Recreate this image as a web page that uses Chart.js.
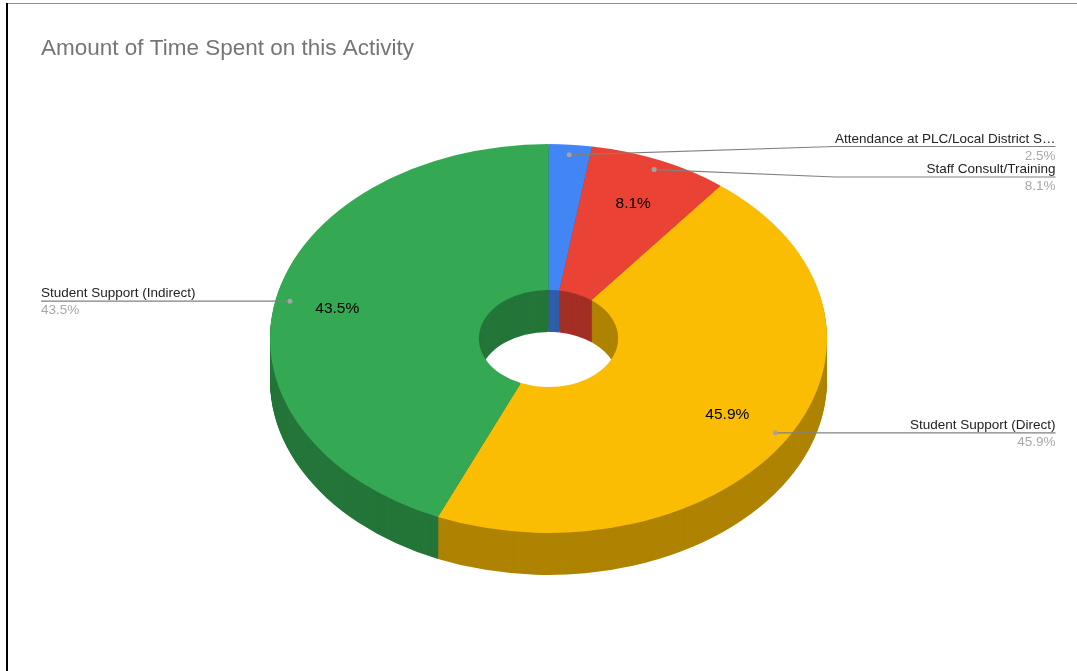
<!DOCTYPE html>
<html>
<head>
<meta charset="utf-8">
<style>
  html, body { margin: 0; padding: 0; background: #fff; overflow: hidden; }
  #wrap { position: relative; width: 1077px; height: 671px; }
  #wrap::before { content: ''; position: absolute; left: 6px; top: 3px; right: 0; height: 1px; background: #8c8c8c; }
  #wrap::after { content: ''; position: absolute; left: 6px; top: 3px; bottom: 0; width: 2px; background: #000; }
  canvas { position: absolute; left: 0; top: 0; }
</style>
<script src="https://cdn.jsdelivr.net/npm/chart.js@4"></script>
</head>
<body>
<div id="wrap"><canvas id="chart" width="1077" height="671"></canvas></div>
<script>
// Data
const titleText = 'Amount of Time Spent on this Activity';
const categories = ['Attendance at PLC/Local District S…', 'Staff Consult/Training', 'Student Support (Direct)', 'Student Support (Indirect)'];
const shareValues = [2.5, 8.1, 45.9, 43.5];
const shareLabels = ['2.5%', '8.1%', '45.9%', '43.5%'];
const insideLabels = [false, true, true, true];
const topColors = ['#4285F4', '#EA4335', '#FBBC04', '#34A853'];
const sideColors = ['#2E5DAB', '#A32F25', '#AF8302', '#247539'];

// fake 3d: squash the circle to an ellipse and stack dark copies under it
const squash = 0.698;
const depth = 42;
const pieCenterY = 338.5;
// y of the horizontal leader line, null = same as the dot
const calloutY = [146.5, 177, null, null];
const dotRadiusFactor = 0.948;
const labelRadiusFactor = 0.76;
const insideNudgeX = [0, 0, -3, -4];

function toScreen(arc, factor) {
    const mid = (arc.startAngle + arc.endAngle) / 2;
    const r = arc.outerRadius * factor;
    return {
        x: arc.x + Math.cos(mid) * r,
        y: pieCenterY + Math.sin(mid) * r * squash
    };
}

const pie3d = {
    id: 'pie3d',
    beforeDatasetsDraw(chart) {
        const ctx = chart.ctx;
        const arcs = chart.getDatasetMeta(0).data;
        const cy = arcs[0].y;
        for (let d = depth; d >= 0; d--) {
            ctx.save();
            ctx.translate(0, pieCenterY + d);
            ctx.scale(1, squash);
            ctx.translate(0, -cy);
            arcs.forEach((arc, i) => {
                arc.options.backgroundColor = d === 0 ? topColors[i] : sideColors[i];
                arc.draw(ctx);
            });
            ctx.restore();
        }
        return false;
    },
    afterDraw(chart) {
        const ctx = chart.ctx;
        const arcs = chart.getDatasetMeta(0).data;
        const leftX = 41;
        const rightX = 1055.5;

        ctx.save();
        ctx.textBaseline = 'alphabetic';
        ctx.fillStyle = '#757575';
        ctx.font = '22.5px "Liberation Sans"';
        ctx.textAlign = 'left';
        ctx.fillText(titleText, 41, 55);

        arcs.forEach((arc, i) => {
            const dot = toScreen(arc, dotRadiusFactor);
            const onRight = dot.x > arc.x;
            const endX = onRight ? rightX : leftX;
            const lineY = calloutY[i] === null ? dot.y : calloutY[i];

            // leader line
            ctx.strokeStyle = '#808080';
            ctx.lineWidth = 1.2;
            ctx.beginPath();
            ctx.moveTo(dot.x, dot.y);
            if (calloutY[i] !== null) ctx.lineTo(835, lineY);
            ctx.lineTo(endX, lineY);
            ctx.stroke();

            ctx.fillStyle = '#a3a3a3';
            ctx.beginPath();
            ctx.arc(dot.x, dot.y, 2.5, 0, Math.PI * 2);
            ctx.fill();

            // callout text
            ctx.textAlign = onRight ? 'right' : 'left';
            ctx.font = '13.5px "Liberation Sans"';
            ctx.fillStyle = '#222222';
            ctx.fillText(categories[i], endX, lineY - 4);
            ctx.fillStyle = '#a8a8a8';
            ctx.fillText(shareLabels[i], endX, lineY + 13);

            // value on the slice
            if (insideLabels[i]) {
                const p = toScreen(arc, labelRadiusFactor);
                ctx.textAlign = 'center';
                ctx.textBaseline = 'middle';
                ctx.font = '15.5px "Liberation Sans"';
                ctx.fillStyle = '#000000';
                ctx.fillText(shareLabels[i], p.x + insideNudgeX[i], p.y + 0.5);
                ctx.textBaseline = 'alphabetic';
            }
        });
        ctx.restore();
    }
};

new Chart(document.getElementById('chart').getContext('2d'), {
    type: 'doughnut',
    data: {
        labels: categories,
        datasets: [{
            data: shareValues,
            backgroundColor: topColors,
            borderWidth: 0,
            hoverOffset: 0
        }]
    },
    options: {
        responsive: false,
        animation: false,
        cutout: '25%',
        layout: { padding: { left: 270, right: 250, top: 57, bottom: 57 } },
        plugins: { legend: { display: false }, tooltip: { enabled: false } },
        events: []
    },
    plugins: [pie3d]
});
</script>
</body>
</html>
